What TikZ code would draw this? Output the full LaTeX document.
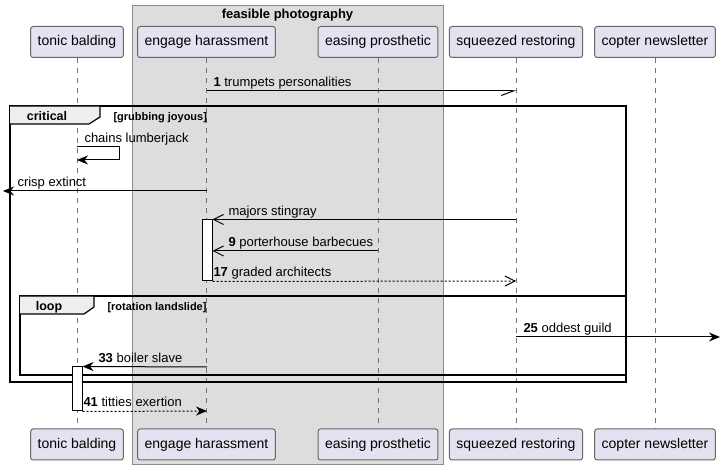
\documentclass[tikz,border=0pt]{standalone}
\usepackage{fontspec}
\setmainfont{Liberation Sans}
\usetikzlibrary{arrows.meta}

\definecolor{partfill}{RGB}{226,226,240}
\definecolor{boxfill}{RGB}{221,221,221}
\definecolor{tabfill}{RGB}{238,238,238}

\begin{document}
\begin{tikzpicture}[x=1pt, y=-1pt, line width=1pt]
    % Define styles
    \tikzset{
        actor/.style={draw=black!60, fill=partfill, rounded corners=2.5pt, minimum height=31pt, inner xsep=7pt, font=\fontsize{14}{16}\selectfont},
        lifeline/.style={draw=black!55, line width=0.8pt, dash pattern=on 5pt off 5pt},
        solidhead/.style={-{Stealth[length=11pt, width=9pt, inset=3.5pt]}},
        openhead/.style={-{Straight Barb[length=10pt, width=10pt]}},
        halfhead/.style={-{Straight Barb[right, length=12pt, width=9pt]}},
        dots/.style={dash pattern=on 2pt off 2pt},
        msgtext/.style={anchor=base west, inner sep=0pt, font=\fontsize{13}{15}\selectfont},
        frame/.style={draw=black, line width=1.5pt},
        tab/.style={fill=tabfill, draw=black, line width=1.2pt},
        tabtext/.style={anchor=base, inner sep=0pt, font=\bfseries\fontsize{12.5}{14}\selectfont},
        guardtext/.style={anchor=base west, inner sep=0pt, font=\bfseries\fontsize{11}{13}\selectfont},
        activation/.style={draw=black, fill=white, line width=1pt}
    }
    \useasboundingbox (0,0) rectangle (721,470);

    % Box round the middle participants
    \draw[fill=boxfill, draw=black!45] (132,6) rectangle (443,465);
    \node[anchor=base, inner sep=0pt, font=\bfseries\fontsize{13}{15}\selectfont] (boxtitle) at (287.5,19) {feasible photography};

    % Participants
    \node[actor] (tb) at (77,42) {tonic balding};
    \node[actor] (eh) at (206.5,42) {engage harassment};
    \node[actor] (ep) at (378,42) {easing prosthetic};
    \node[actor] (sr) at (516,42) {squeezed restoring};
    \node[actor] (cn) at (655,42) {copter newsletter};

    \node[actor] (tb2) at (77,444.5) {tonic balding};
    \node[actor] (eh2) at (206.5,444.5) {engage harassment};
    \node[actor] (ep2) at (378,444.5) {easing prosthetic};
    \node[actor] (sr2) at (516,444.5) {squeezed restoring};
    \node[actor] (cn2) at (655,444.5) {copter newsletter};

    % Lifelines
    \draw[lifeline] (tb.south) -- (tb2.north);
    \draw[lifeline] (eh.south) -- (eh2.north);
    \draw[lifeline] (ep.south) -- (ep2.north);
    \draw[lifeline] (sr.south) -- (sr2.north);
    \draw[lifeline] (cn.south) -- (cn2.north);

    % Frames: critical and loop
    \draw[frame] (10,106) rectangle (626,382);
    \draw[tab] (10,106) -- (100,106) -- (100,117) -- (89,124) -- (10,124);
    \node[tabtext] (critical) at (47,120.5) {critical};
    \node[guardtext] (guardcrit) at (113,121) {[grubbing joyous]};

    \draw[frame] (20,296) rectangle (626,375);
    \draw[tab] (20,296) -- (94,296) -- (94,307) -- (84,314) -- (20,314);
    \node[tabtext] (loop) at (49,310.5) {loop};
    \node[guardtext] (guardloop) at (107,311) {[rotation landslide]};

    % Activations
    \node[activation, minimum width=10pt, minimum height=61pt, inner sep=0pt] (acteh) at (207,250.5) {};
    \node[activation, minimum width=10pt, minimum height=44pt, inner sep=0pt] (acttb) at (77,389) {};

    % Message end points
    \coordinate (m1a) at (207,91);
    \coordinate (m1b) at (516,91);
    \coordinate (selfa) at (77,147);
    \coordinate (selfb) at (119,147);
    \coordinate (selfc) at (119,160);
    \coordinate (selfd) at (77,160);
    \coordinate (crispa) at (207,191);
    \coordinate (crispb) at (3,191);
    \coordinate (m9a) at (378,251);
    \coordinate (m17b) at (516,281);
    \coordinate (m25a) at (516,337);
    \coordinate (m25b) at (720,337);
    \coordinate (m33a) at (207,367);
    \coordinate (m41b) at (207,411);

    % Messages
    \draw[halfhead] (m1a) -- (m1b);
    \node[msgtext] (l1) at (213,87) {\textbf{1} trumpets personalities};

    \draw[solidhead] (selfa) -- (selfb) -- (selfc) -- (selfd);
    \node[msgtext] (lself) at (84,143) {chains lumberjack};

    \draw[solidhead] (crispa) -- (crispb);
    \node[msgtext] (lcrisp) at (17,187) {crisp extinct};

    \draw[openhead] (m1b |- acteh.north east) -- (acteh.north east);
    \node[msgtext] (lmajors) at (228,216) {majors stingray};

    \draw[openhead] (m9a) -- (m9a -| acteh.east);
    \node[msgtext] (l9) at (228,247) {\textbf{9} porterhouse barbecues};

    \draw[openhead, dots] (acteh.south east) -- (m17b);
    \node[msgtext] (l17) at (213,277) {\textbf{17} graded architects};

    \draw[solidhead] (m25a) -- (m25b);
    \node[msgtext] (l25) at (523,333) {\textbf{25} oddest guild};

    \draw[solidhead] (m33a) -- (acttb.north east);
    \node[msgtext] (l33) at (98,363) {\textbf{33} boiler slave};

    \draw[solidhead, dots] (acttb.south east) -- (m41b);
    \node[msgtext] (l41) at (83,407) {\textbf{41} titties exertion};

\end{tikzpicture}
\end{document}
